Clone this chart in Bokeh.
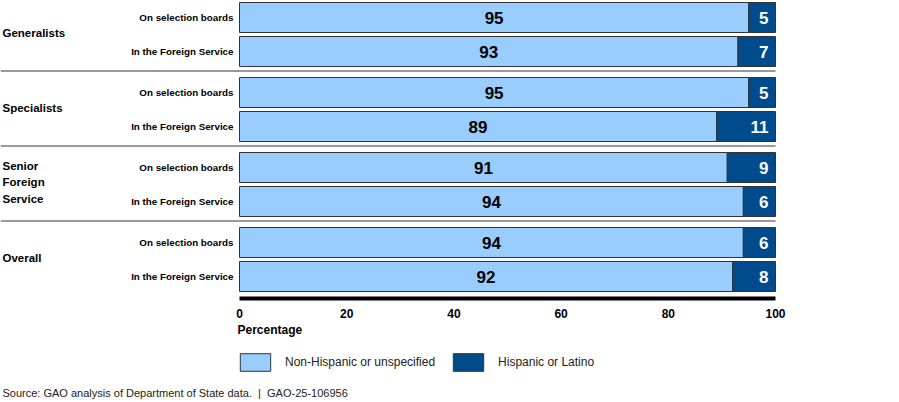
from bokeh.plotting import figure
from bokeh.models import Range1d, FixedTicker, Legend, LegendItem
from bokeh.layouts import column
from bokeh.core.properties import value
from bokeh.embed import file_html
from bokeh.resources import INLINE

# ---- data ----
groups = ["Generalists", "Specialists", "Senior\nForeign\nService", "Overall"]
rows = ["On selection boards", "In the Foreign Service"]
non_hispanic = [95, 93, 95, 89, 91, 94, 94, 92]
hispanic = [5, 7, 5, 11, 9, 6, 6, 8]
ticks = [0, 20, 40, 60, 80, 100]
series_names = ["Non-Hispanic or unspecified", "Hispanic or Latino"]
axis_title = "Percentage"
source_text = "Source: GAO analysis of Department of State data. \u00a0|\u00a0 GAO-25-106956"

# ---- styles / layout ----
FONT = "Liberation Sans"
LIGHT = "#99CCFF"
DARK = "#004B8C"
OUTLINE = "#333333"

W = 899
FRAME_H = 298
H1 = 322
H2 = 80
PX = 5.36                    # pixels per percentage point
LEFT0 = 239                  # canvas x of 0 %
x_start = -LEFT0 / PX
x_end = 100 + (W - LEFT0 - 100 * PX) / PX

BAR_H = 30
ROW_GAP = 4
GROUP_PITCH = 75
TOP = 2

p = figure(width=W, height=H1, output_backend="svg", toolbar_location=None,
           x_range=Range1d(x_start, x_end), y_range=Range1d(FRAME_H, 0),
           y_axis_location=None, min_border_left=0, min_border_right=0,
           min_border_top=0, min_border_bottom=H1 - FRAME_H)
p.outline_line_color = None
p.xgrid.visible = False
p.ygrid.visible = False
p.background_fill_color = "white"

# y centers of bars
ycent = []
labels_rows = []
for g in range(len(groups)):
    for r in range(len(rows)):
        top = TOP + g * GROUP_PITCH + r * (BAR_H + ROW_GAP)
        ycent.append(top + BAR_H / 2)
        labels_rows.append(rows[r])
group_centers = [TOP + g * GROUP_PITCH + (2 * BAR_H + ROW_GAP) / 2 - 2 for g in range(len(groups))]
seps = [TOP + g * GROUP_PITCH + 2 * BAR_H + ROW_GAP + 4.5 for g in range(len(groups) - 1)]

totals = [a + b for a, b in zip(non_hispanic, hispanic)]
p.hbar(y=ycent, left=0, right=non_hispanic, height=BAR_H,
       fill_color=LIGHT, line_color=OUTLINE, line_width=1)
p.hbar(y=ycent, left=non_hispanic, right=totals, height=BAR_H,
       fill_color=DARK, line_color=OUTLINE, line_width=1)

# separators
p.segment(x0=[x_start] * len(seps), x1=[100] * len(seps), y0=seps, y1=seps,
          line_color="#999999", line_width=2)

# value labels
p.text(x=[v / 2 for v in non_hispanic], y=ycent, text=[str(v) for v in non_hispanic],
       text_font=value(FONT), text_font_style="bold", text_font_size="17px",
       text_align="center", text_baseline="middle", text_color="black")
p.text(x=totals, y=ycent, text=[str(v) for v in hispanic], x_offset=-7,
       text_font=value(FONT), text_font_style="bold", text_font_size="17px",
       text_align="right", text_baseline="middle", text_color="white")

# row labels
p.text(x=[0] * len(ycent), y=ycent, text=labels_rows, x_offset=-6,
       text_font=value(FONT), text_font_style="bold", text_font_size="9.8px",
       text_align="right", text_baseline="middle", text_color="black")
# group labels
p.text(x=[x_start] * len(groups), y=group_centers, text=groups, x_offset=2,
       text_font=value(FONT), text_font_style="bold", text_font_size="11.5px",
       text_align="left", text_baseline="middle", text_color="black",
       text_line_height=1.35)

# x axis
ax = p.xaxis[0]
ax.bounds = (0, 100)
ax.ticker = FixedTicker(ticks=ticks)
ax.axis_line_width = 4
ax.axis_line_color = "black"
ax.major_tick_line_color = None
ax.minor_tick_line_color = None
ax.major_label_standoff = 4
ax.major_label_text_font = FONT
ax.major_label_text_font_style = "bold"
ax.major_label_text_font_size = "12px"
ax.major_label_text_color = "black"

# ---- lower figure: axis title, legend, source ----
p2 = figure(width=W, height=H2, output_backend="svg", toolbar_location=None,
            x_range=Range1d(0, W), y_range=Range1d(H2, 0),
            x_axis_location=None, y_axis_location=None,
            min_border_left=0, min_border_right=0, min_border_top=0, min_border_bottom=0)
p2.outline_line_color = None
p2.xgrid.visible = False
p2.ygrid.visible = False

p2.text(x=[LEFT0 - 2], y=[7], text=[axis_title], text_font=value(FONT),
        text_font_style="bold", text_font_size="12px", text_align="left",
        text_baseline="middle", text_color="black")
p2.text(x=[2], y=[70], text=[source_text], text_font=value(FONT),
        text_font_size="11px", text_align="left", text_baseline="middle",
        text_color="#222222")

# legend proxies (hidden renderers; only their legend swatches are shown)
k1 = p2.hbar(y=[0], left=[0], right=[0], height=0,
             fill_color=LIGHT, line_color=OUTLINE, line_width=1, visible=False)
k2 = p2.hbar(y=[0], left=[0], right=[0], height=0,
             fill_color=DARK, line_color=OUTLINE, line_width=1, visible=False)
legend = Legend(items=[LegendItem(label=series_names[0], renderers=[k1]),
                       LegendItem(label=series_names[1], renderers=[k2])],
                orientation="horizontal", location=(LEFT0 - 3, H2 - 51),
                glyph_width=38, glyph_height=22, label_standoff=11, spacing=14,
                padding=0, margin=0, border_line_color=None,
                background_fill_alpha=0, inactive_fill_alpha=0,
                label_text_font=FONT,
                label_text_font_size="12px", label_text_color="#222222")
p2.add_layout(legend)

open("out.html", "w").write(file_html(column(p, p2, spacing=0), INLINE))
